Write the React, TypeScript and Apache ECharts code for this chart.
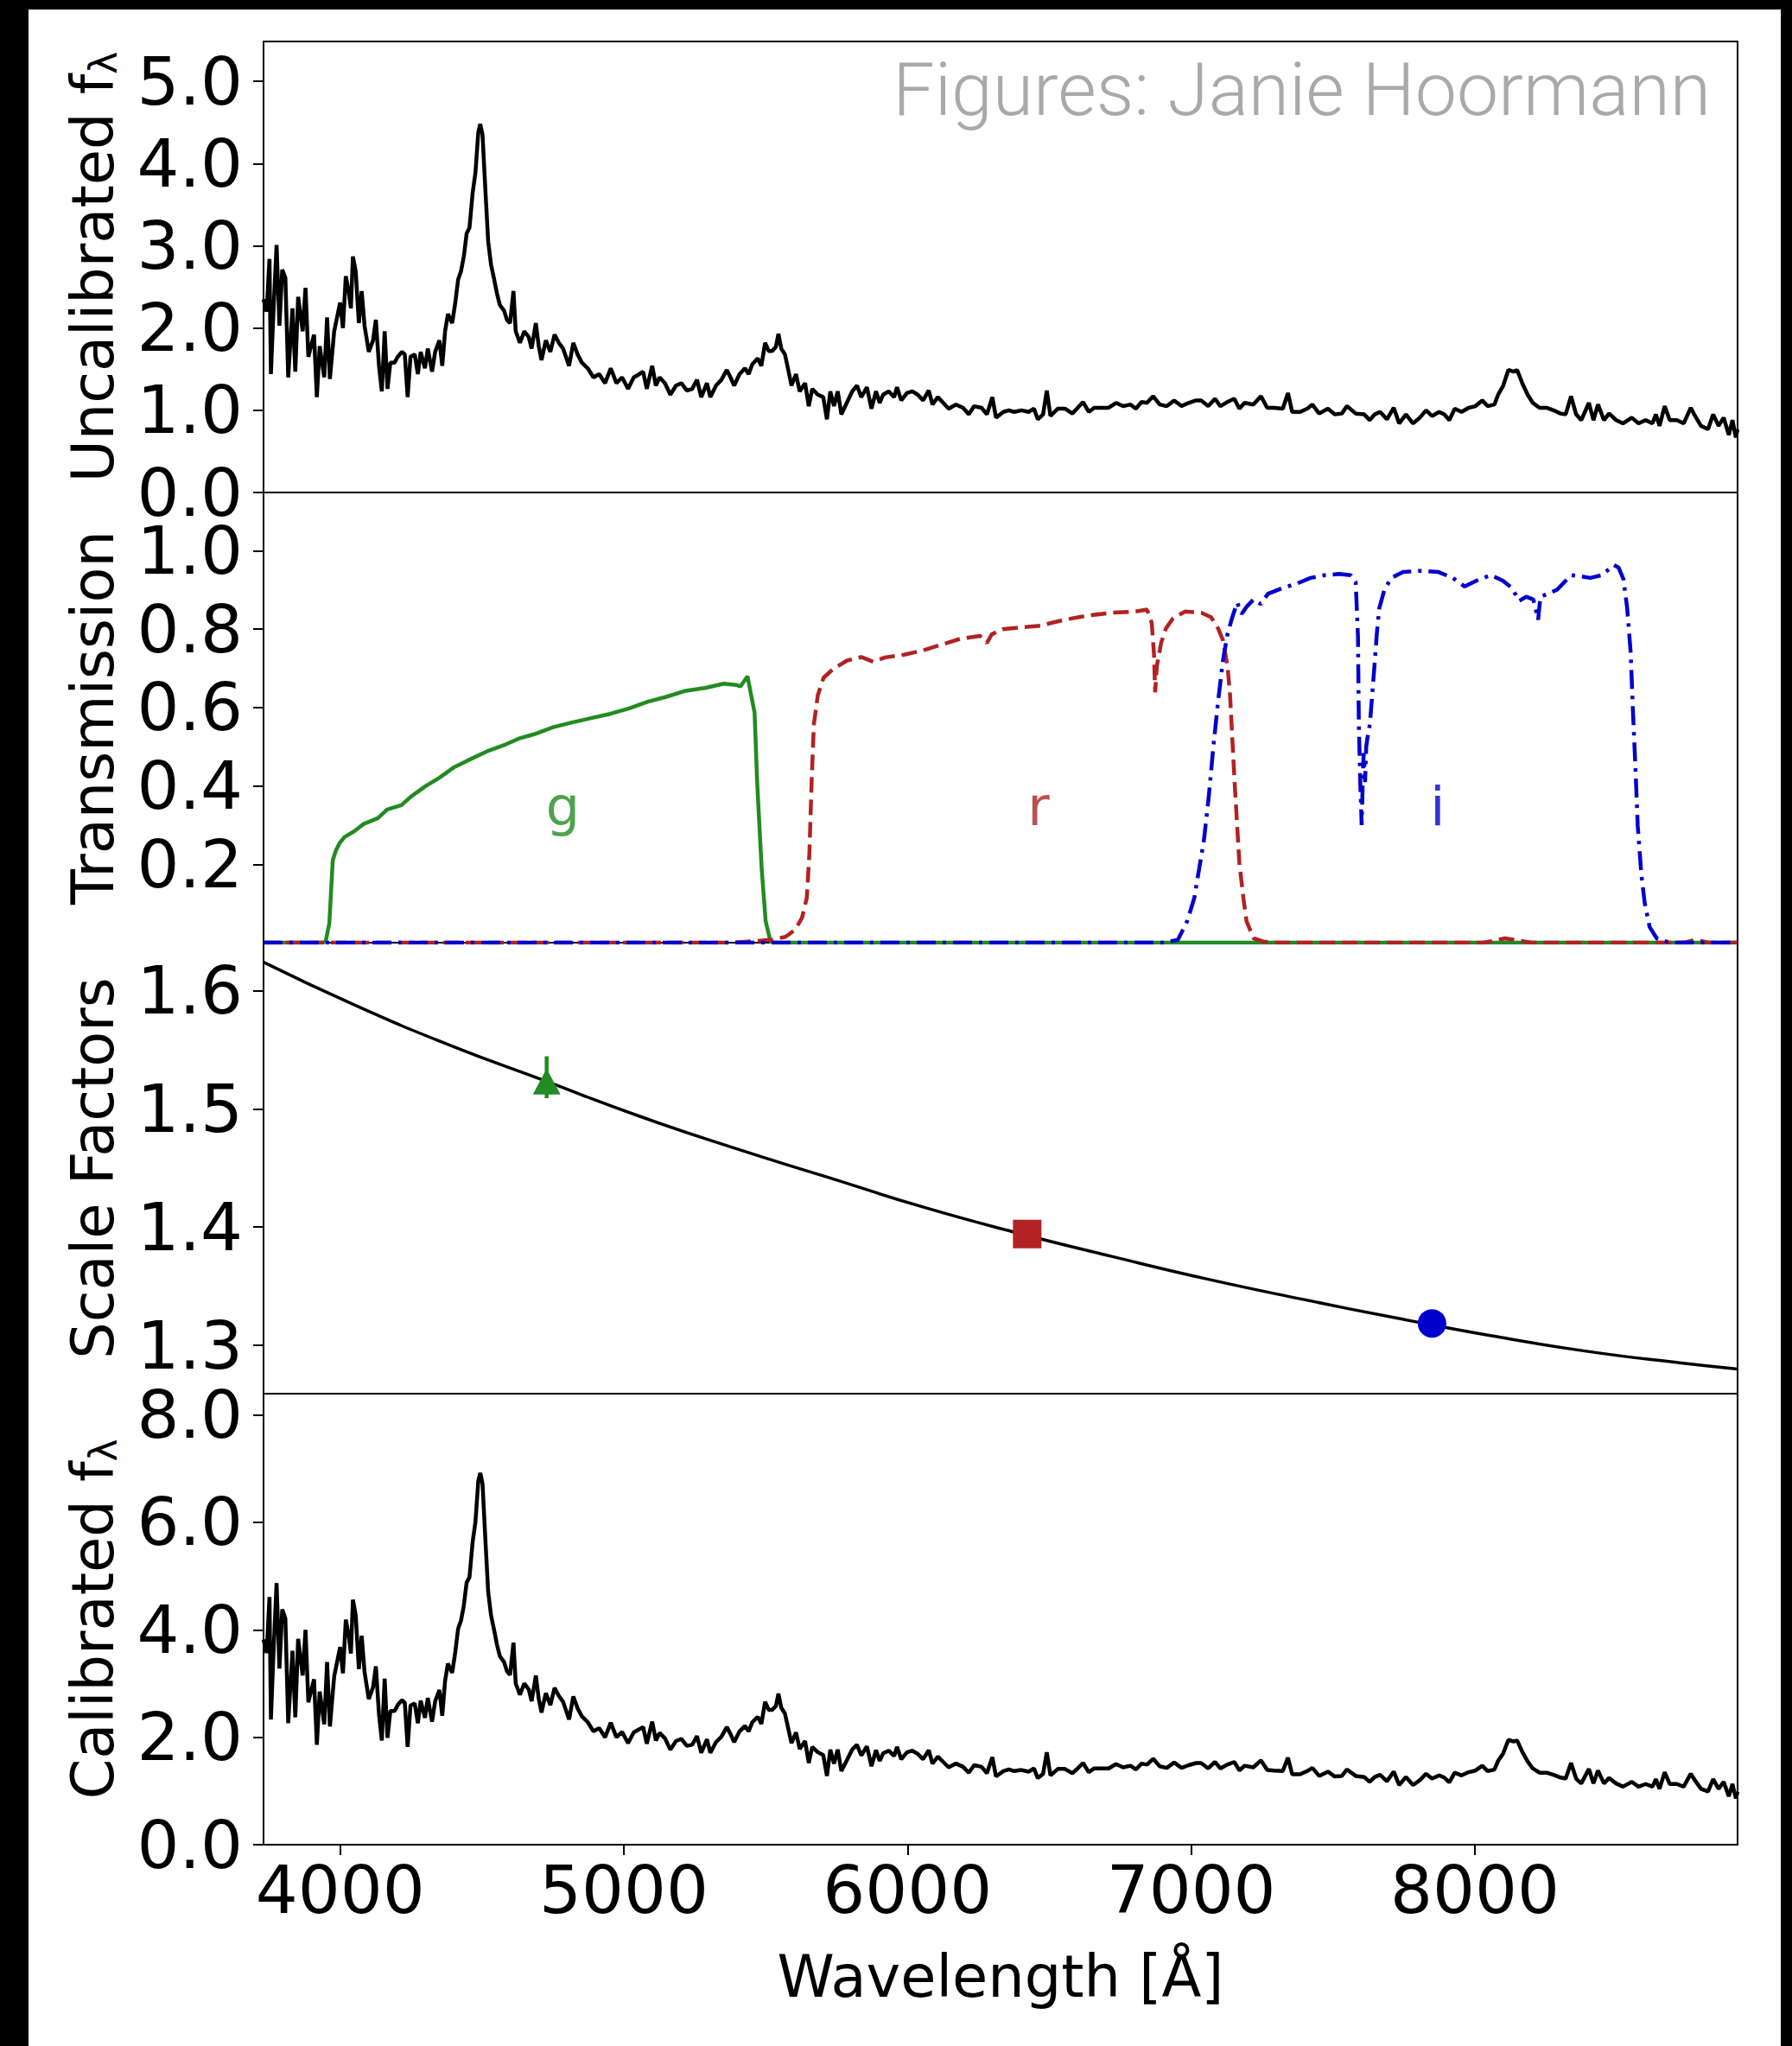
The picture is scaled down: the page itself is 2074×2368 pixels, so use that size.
import React, { useEffect, useRef } from "react";
import * as echarts from "echarts";

// ---------- axes ----------
const X_MIN = 3730;
const X_MAX = 8926;
const xTicks = [4000, 5000, 6000, 7000, 8000];
const uncalTicks = [0, 1, 2, 3, 4, 5];
const transTicks = [0.2, 0.4, 0.6, 0.8, 1.0];
const scaleTicks = [1.3, 1.4, 1.5, 1.6];
const calTicks = [0, 2, 4, 6, 8];

// ---------- spectrum ----------
const wavelengths = [
  3730, 3741, 3751, 3756, 3766, 3776, 3786, 3796, 3807, 3817,
  3832, 3842, 3852, 3868, 3878, 3888, 3908, 3918, 3928, 3944,
  3954, 3964, 3979, 4000, 4010, 4020, 4030, 4038, 4045, 4055,
  4066, 4076, 4086, 4101, 4116, 4126, 4137, 4147, 4157, 4167,
  4177, 4192, 4203, 4218, 4228, 4238, 4248, 4263, 4274, 4284,
  4299, 4309, 4324, 4335, 4350, 4360, 4370, 4380, 4395, 4406,
  4416, 4426, 4436, 4446, 4456, 4467, 4477, 4487, 4494, 4502,
  4512, 4522, 4532, 4543, 4553, 4563, 4578, 4588, 4599, 4611,
  4619, 4634, 4649, 4665, 4675, 4690, 4700, 4710, 4725, 4741,
  4756, 4771, 4786, 4807, 4822, 4837, 4852, 4873, 4893, 4913,
  4934, 4954, 4974, 4994, 5015, 5035, 5055, 5068, 5081, 5100,
  5113, 5126, 5145, 5164, 5184, 5203, 5222, 5241, 5258, 5273,
  5293, 5305, 5325, 5344, 5363, 5376, 5389, 5408, 5427, 5440,
  5453, 5472, 5485, 5498, 5511, 5523, 5536, 5545, 5555, 5568,
  5581, 5591, 5607, 5620, 5639, 5652, 5664, 5684, 5703, 5716,
  5728, 5741, 5754, 5767, 5786, 5805, 5822, 5837, 5857, 5873,
  5889, 5902, 5914, 5934, 5953, 5963, 5978, 5998, 6017, 6036,
  6055, 6075, 6088, 6107, 6126, 6145, 6171, 6196, 6216, 6235,
  6261, 6280, 6299, 6312, 6338, 6357, 6376, 6402, 6427, 6446,
  6459, 6478, 6491, 6504, 6530, 6555, 6581, 6600, 6619, 6639,
  6658, 6684, 6709, 6735, 6760, 6786, 6805, 6825, 6844, 6866,
  6889, 6914, 6940, 6966, 6991, 7017, 7035, 7060, 7084, 7103,
  7127, 7152, 7170, 7188, 7219, 7246, 7268, 7292, 7323, 7341,
  7356, 7384, 7409, 7427, 7451, 7482, 7506, 7531, 7549, 7580,
  7610, 7629, 7647, 7666, 7690, 7714, 7733, 7757, 7782, 7806,
  7828, 7849, 7874, 7892, 7910, 7929, 7953, 7978, 8002, 8026,
  8045, 8069, 8082, 8100, 8118, 8137, 8149, 8167, 8186, 8204,
  8228, 8253, 8277, 8302, 8320, 8339, 8357, 8375, 8402, 8418,
  8434, 8455, 8473, 8498, 8522, 8553, 8577, 8602, 8626, 8638,
  8651, 8669, 8687, 8712, 8736, 8761, 8773, 8797, 8822, 8840,
  8859, 8877, 8895, 8908, 8920, 8926,
];

const uncalibratedFlux = [
  2.35, 2.20, 2.84, 1.44, 2.28, 3.01, 2.03, 2.71, 2.61, 1.40,
  2.24, 1.47, 2.38, 1.96, 2.49, 1.65, 1.92, 1.16, 1.78, 1.40,
  2.13, 1.38, 1.96, 2.31, 2.00, 2.63, 2.45, 2.24, 2.87, 2.69,
  2.06, 2.45, 2.03, 1.71, 1.85, 2.10, 1.54, 1.23, 1.96, 1.26,
  1.58, 1.58, 1.65, 1.71, 1.68, 1.16, 1.65, 1.68, 1.44, 1.71,
  1.51, 1.75, 1.47, 1.71, 1.85, 1.54, 1.96, 2.17, 2.06, 2.31,
  2.59, 2.69, 2.87, 3.15, 3.22, 3.64, 3.89, 4.38, 4.48, 4.35,
  3.68, 3.05, 2.77, 2.59, 2.42, 2.28, 2.21, 2.10, 2.06, 2.45,
  1.96, 1.82, 1.96, 1.89, 1.75, 2.06, 1.78, 1.61, 1.85, 1.71,
  1.92, 1.82, 1.75, 1.54, 1.82, 1.68, 1.58, 1.51, 1.40, 1.44,
  1.33, 1.51, 1.33, 1.40, 1.26, 1.40, 1.44, 1.47, 1.26, 1.54,
  1.30, 1.40, 1.33, 1.19, 1.30, 1.33, 1.24, 1.26, 1.37, 1.16,
  1.33, 1.16, 1.30, 1.37, 1.49, 1.40, 1.30, 1.44, 1.51, 1.44,
  1.56, 1.63, 1.54, 1.82, 1.72, 1.72, 1.77, 1.93, 1.75, 1.68,
  1.47, 1.30, 1.44, 1.23, 1.33, 1.05, 1.26, 1.19, 1.16, 0.89,
  1.23, 1.05, 1.23, 0.95, 1.09, 1.23, 1.30, 1.16, 1.28, 1.02,
  1.23, 1.09, 1.19, 1.23, 1.16, 1.28, 1.12, 1.21, 1.23, 1.19,
  1.12, 1.24, 1.07, 1.16, 1.09, 1.02, 1.07, 1.03, 0.95, 1.05,
  1.03, 0.95, 1.16, 0.91, 0.98, 1.00, 0.98, 1.00, 0.98, 1.02,
  0.89, 0.95, 1.24, 0.93, 1.02, 1.02, 0.96, 1.03, 1.10, 0.98,
  1.03, 1.03, 1.03, 1.09, 1.05, 1.07, 1.02, 1.10, 1.09, 1.17,
  1.07, 1.05, 1.12, 1.05, 1.09, 1.12, 1.12, 1.05, 1.14, 1.05,
  1.10, 1.14, 1.02, 1.09, 1.07, 1.17, 1.03, 1.03, 1.02, 1.21,
  0.98, 0.98, 1.02, 1.07, 0.96, 1.02, 0.95, 0.96, 1.05, 0.96,
  0.95, 0.88, 0.95, 0.98, 0.89, 1.03, 0.84, 0.95, 0.84, 0.91,
  1.00, 0.93, 0.98, 0.95, 0.88, 1.02, 0.98, 1.03, 1.05, 1.12,
  1.05, 1.07, 1.19, 1.30, 1.49, 1.47, 1.49, 1.33, 1.19, 1.09,
  1.03, 1.03, 1.00, 0.96, 0.95, 1.17, 0.95, 0.88, 1.09, 0.88,
  1.07, 0.88, 0.96, 0.88, 0.84, 0.91, 0.84, 0.88, 0.84, 0.95,
  0.81, 1.05, 0.88, 0.88, 0.84, 1.03, 0.95, 0.81, 0.77, 0.95,
  0.81, 0.91, 0.70, 0.88, 0.67, 0.77,
];

const calibratedFlux = [
  3.82, 3.57, 4.61, 2.33, 3.69, 4.87, 3.28, 4.38, 4.21, 2.26,
  3.61, 2.37, 3.83, 3.15, 4.00, 2.65, 3.08, 1.86, 2.85, 2.24,
  3.40, 2.20, 3.13, 3.68, 3.19, 4.19, 3.90, 3.56, 4.56, 4.27,
  3.27, 3.89, 3.22, 2.71, 2.93, 3.32, 2.43, 1.94, 3.09, 1.99,
  2.49, 2.49, 2.60, 2.69, 2.64, 1.82, 2.59, 2.63, 2.26, 2.68,
  2.36, 2.73, 2.29, 2.67, 2.88, 2.40, 3.05, 3.37, 3.20, 3.59,
  4.02, 4.17, 4.45, 4.88, 4.98, 5.63, 6.01, 6.77, 6.92, 6.72,
  5.68, 4.70, 4.27, 3.99, 3.72, 3.51, 3.40, 3.23, 3.16, 3.76,
  3.00, 2.79, 3.00, 2.89, 2.67, 3.15, 2.72, 2.46, 2.82, 2.60,
  2.92, 2.77, 2.66, 2.33, 2.76, 2.54, 2.39, 2.28, 2.11, 2.17,
  2.00, 2.27, 2.00, 2.10, 1.89, 2.09, 2.15, 2.19, 1.88, 2.29,
  1.94, 2.08, 1.98, 1.77, 1.93, 1.97, 1.84, 1.86, 2.02, 1.71,
  1.96, 1.71, 1.91, 2.01, 2.19, 2.06, 1.91, 2.11, 2.21, 2.11,
  2.28, 2.38, 2.25, 2.66, 2.51, 2.51, 2.58, 2.81, 2.55, 2.44,
  2.13, 1.89, 2.09, 1.78, 1.93, 1.52, 1.82, 1.72, 1.67, 1.28,
  1.77, 1.51, 1.77, 1.37, 1.57, 1.77, 1.86, 1.66, 1.83, 1.46,
  1.76, 1.56, 1.70, 1.75, 1.65, 1.82, 1.59, 1.72, 1.75, 1.69,
  1.59, 1.76, 1.51, 1.64, 1.54, 1.44, 1.51, 1.45, 1.34, 1.48,
  1.45, 1.33, 1.63, 1.27, 1.37, 1.40, 1.37, 1.39, 1.36, 1.42,
  1.24, 1.32, 1.72, 1.29, 1.41, 1.41, 1.33, 1.42, 1.52, 1.35,
  1.42, 1.42, 1.42, 1.50, 1.44, 1.47, 1.40, 1.51, 1.49, 1.60,
  1.46, 1.43, 1.53, 1.43, 1.48, 1.52, 1.52, 1.42, 1.54, 1.42,
  1.49, 1.54, 1.38, 1.47, 1.44, 1.57, 1.39, 1.38, 1.37, 1.62,
  1.31, 1.31, 1.37, 1.43, 1.28, 1.36, 1.27, 1.28, 1.40, 1.28,
  1.26, 1.17, 1.26, 1.30, 1.18, 1.36, 1.11, 1.26, 1.11, 1.20,
  1.32, 1.23, 1.29, 1.25, 1.16, 1.34, 1.29, 1.35, 1.38, 1.47,
  1.37, 1.40, 1.56, 1.70, 1.95, 1.92, 1.94, 1.73, 1.55, 1.42,
  1.34, 1.34, 1.30, 1.25, 1.23, 1.52, 1.23, 1.14, 1.41, 1.14,
  1.38, 1.14, 1.24, 1.14, 1.08, 1.17, 1.08, 1.13, 1.08, 1.22,
  1.04, 1.35, 1.13, 1.13, 1.08, 1.32, 1.22, 1.04, 0.99, 1.22,
  1.04, 1.17, 0.90, 1.13, 0.86, 0.99,
];

// ---------- filter transmission curves [wavelength, transmission] ----------
const gFilter = [
  [3730, 0], [3940, 0], [3949, 0.003], [3962, 0.05], [3974, 0.21], [3985, 0.235],
  [3999, 0.255], [4016, 0.27], [4049, 0.284], [4083, 0.303], [4133, 0.318], [4166, 0.34],
  [4216, 0.351], [4250, 0.373], [4300, 0.399], [4350, 0.421], [4400, 0.447], [4450, 0.465],
  [4517, 0.488], [4584, 0.506], [4634, 0.522], [4684, 0.532], [4751, 0.55], [4818, 0.562],
  [4885, 0.573], [4952, 0.584], [5019, 0.598], [5085, 0.615], [5152, 0.628], [5219, 0.643],
  [5286, 0.65], [5353, 0.661], [5395, 0.658], [5411, 0.654], [5436, 0.68], [5461, 0.587],
  [5470, 0.41], [5486, 0.188], [5500, 0.055], [5517, 0.003], [5530, 0], [8926, 0],
];
const rFilter = [
  [3730, 0], [5380, 0], [5520, 0.007], [5570, 0.015], [5604, 0.033], [5628, 0.063],
  [5645, 0.114], [5654, 0.225], [5662, 0.41], [5670, 0.558], [5684, 0.632], [5704, 0.676],
  [5737, 0.698], [5787, 0.72], [5837, 0.729], [5879, 0.717], [5921, 0.728], [5988, 0.735],
  [6055, 0.746], [6121, 0.761], [6188, 0.776], [6255, 0.783], [6280, 0.765], [6297, 0.787],
  [6335, 0.8], [6402, 0.805], [6468, 0.809], [6552, 0.824], [6636, 0.835], [6719, 0.842],
  [6803, 0.845], [6844, 0.85], [6861, 0.816], [6869, 0.735], [6873, 0.639], [6879, 0.706],
  [6894, 0.765], [6911, 0.802], [6936, 0.828], [6978, 0.845], [7036, 0.842], [7070, 0.831],
  [7095, 0.802], [7112, 0.772], [7128, 0.706], [7137, 0.632], [7145, 0.521], [7153, 0.41],
  [7162, 0.299], [7170, 0.203], [7184, 0.114], [7195, 0.055], [7220, 0.011], [7254, 0.003],
  [7300, 0], [8030, 0], [8060, 0.004], [8106, 0.011], [8156, 0.005], [8200, 0],
  [8740, 0], [8775, 0.007], [8825, 0], [8926, 0],
];
const iFilter = [
  [3730, 0], [6900, 0], [6953, 0.007], [6986, 0.055], [7011, 0.114], [7028, 0.188],
  [7045, 0.262], [7062, 0.373], [7078, 0.499], [7095, 0.617], [7112, 0.72], [7128, 0.787],
  [7145, 0.831], [7162, 0.868], [7178, 0.839], [7195, 0.857], [7220, 0.876], [7245, 0.864],
  [7270, 0.89], [7321, 0.905], [7371, 0.916], [7421, 0.931], [7471, 0.938], [7521, 0.941],
  [7563, 0.938], [7580, 0.92], [7588, 0.78], [7591, 0.558], [7596, 0.41], [7601, 0.3],
  [7605, 0.42], [7608, 0.484], [7613, 0.41], [7617, 0.5], [7621, 0.521], [7630, 0.558],
  [7638, 0.632], [7646, 0.706], [7655, 0.794], [7663, 0.853], [7680, 0.898], [7705, 0.931],
  [7747, 0.946], [7805, 0.949], [7872, 0.946], [7922, 0.931], [7964, 0.909], [8006, 0.924],
  [8056, 0.938], [8098, 0.924], [8131, 0.905], [8156, 0.872], [8181, 0.883], [8206, 0.876],
  [8223, 0.824], [8231, 0.883], [8256, 0.89], [8290, 0.901], [8315, 0.92], [8340, 0.938],
  [8373, 0.935], [8407, 0.931], [8448, 0.938], [8490, 0.964], [8507, 0.957], [8524, 0.927],
  [8537, 0.853], [8549, 0.743], [8557, 0.595], [8566, 0.447], [8574, 0.299], [8587, 0.173],
  [8599, 0.1], [8616, 0.04], [8641, 0.011], [8674, 0.003], [8700, 0], [8926, 0],
];
const bandNames = ["g", "r", "i"];
const bandColors = ["#228B22", "#B22222", "#0000CD"];
const bandLabelLambda = [4785, 6462, 7869];
const bandLabelT = 0.347;

// ---------- scale factors ----------
const scaleCurveLambda = [3730, 4049, 4384, 4718, 5052, 5386, 5720, 6054, 6388, 6723, 7057, 7391, 7725, 8059, 8393, 8727, 8926];
const scaleCurveValue = [1.624, 1.588, 1.554, 1.524, 1.494, 1.467, 1.442, 1.417, 1.395, 1.375, 1.356, 1.339, 1.323, 1.308, 1.295, 1.285, 1.28];
const photLambda = [4728, 6422, 7849];
const photScale = [1.523, 1.394, 1.3185];
const photSymbols = ["triangle", "rect", "circle"];
const gErrorBar = [1.509, 1.5444];

const FONT = "'DejaVu Sans', sans-serif";
const TICK_FS = 77;
const NAME_FS = 67;

const grids = [
  { top: 37, height: 522 },
  { top: 559, height: 521 },
  { top: 1080, height: 522 },
  { top: 1602, height: 522 },
].map((g) => ({
  left: 272,
  width: 1706,
  top: g.top,
  height: g.height,
  show: true,
  borderColor: "#000",
  borderWidth: 2,
  backgroundColor: "transparent",
}));

const fmt1 = (v: number) => v.toFixed(1);

function makeYAxis(gridIndex: number, min: number, max: number, ticks: number[], name: string, rich: boolean) {
  const base: any = {
    type: "value",
    gridIndex,
    min,
    max,
    splitLine: { show: false },
    axisLine: { show: false, onZero: false },
    axisTick: { show: true, inside: false, length: 12, lineStyle: { color: "#000", width: 2 }, customValues: ticks },
    axisLabel: {
      show: true,
      customValues: ticks,
      formatter: fmt1,
      fontSize: TICK_FS,
      fontFamily: FONT,
      color: "#000",
      margin: 24,
    },
    name,
    nameLocation: "middle",
    nameRotate: 90,
    nameGap: rich ? 158 : 164,
    nameTextStyle: { fontSize: NAME_FS, fontFamily: FONT, color: "#000" },
  };
  if (rich) {
    base.nameTextStyle.rich = {
      a: { fontSize: NAME_FS, fontFamily: FONT, color: "#000", lineHeight: NAME_FS, verticalAlign: "top", padding: [0, 0, 6, 0] },
      b: { fontSize: 44, fontFamily: FONT, color: "#000", lineHeight: 44, verticalAlign: "bottom" },
    };
  }
  return base;
}

function makeXAxis(gridIndex: number, showLabels: boolean) {
  return {
    type: "value",
    gridIndex,
    min: X_MIN,
    max: X_MAX,
    splitLine: { show: false },
    axisLine: { show: false, onZero: false },
    axisTick: { show: showLabels, inside: false, length: 12, lineStyle: { color: "#000", width: 2 }, customValues: xTicks },
    axisLabel: {
      show: showLabels,
      customValues: xTicks,
      formatter: (v: number) => String(Math.round(v)),
      fontSize: TICK_FS,
      fontFamily: FONT,
      color: "#000",
      margin: 14,
    },
    name: showLabels ? "Wavelength [Å]" : "",
    nameLocation: "middle",
    nameGap: 119,
    nameTextStyle: { fontSize: NAME_FS, fontFamily: FONT, color: "#000" },
  };
}

const lineBase = { type: "line", showSymbol: false, symbol: "none", smooth: false, clip: true, z: 3 };

const option: any = {
  animation: false,
  backgroundColor: "#ffffff",
  grid: grids,
  xAxis: [makeXAxis(0, false), makeXAxis(1, false), makeXAxis(2, false), makeXAxis(3, true)],
  yAxis: [
    makeYAxis(0, 0, 5.485, uncalTicks, "{a|Uncalibrated f}{b|λ}", true),
    makeYAxis(1, 0, 1.149, transTicks, "Transmission", false),
    makeYAxis(2, 1.2591, 1.6405, scaleTicks, "Scale Factors", false),
    makeYAxis(3, 0, 8.396, calTicks, "{a|Calibrated f}{b|λ}", true),
  ],
  graphic: [
    {
      type: "text",
      x: 1947,
      y: 92,
      style: {
        text: "Figures: Janie Hoormann",
        fontSize: 86,
        fontFamily: "Roboto, 'Liberation Sans', sans-serif",
        fontWeight: 300,
        fill: "#a7aaa9",
        textAlign: "right",
        textVerticalAlign: "middle",
      },
      z: 10,
    },
  ],
  series: [
    {
      ...lineBase,
      name: "uncalibrated",
      xAxisIndex: 0,
      yAxisIndex: 0,
      data: wavelengths.map((w, i) => [w, uncalibratedFlux[i]]),
      lineStyle: { color: "#000", width: 4.5 },
    },
    {
      ...lineBase,
      name: "g",
      xAxisIndex: 1,
      yAxisIndex: 1,
      data: gFilter,
      lineStyle: { color: bandColors[0], width: 4.5 },
    },
    {
      ...lineBase,
      name: "r",
      xAxisIndex: 1,
      yAxisIndex: 1,
      data: rFilter,
      lineStyle: { color: bandColors[1], width: 4.5, type: [18, 8] },
    },
    {
      ...lineBase,
      name: "i",
      xAxisIndex: 1,
      yAxisIndex: 1,
      data: iFilter,
      lineStyle: { color: bandColors[2], width: 4.5, type: [22, 8, 4, 8] },
    },
    {
      type: "scatter",
      name: "bandLabels",
      xAxisIndex: 1,
      yAxisIndex: 1,
      symbolSize: 1,
      itemStyle: { color: "rgba(0,0,0,0)" },
      label: {
        show: true,
        position: "inside",
        formatter: (p: any) => p.name,
        fontSize: 62,
        fontFamily: FONT,
      },
      data: bandNames.map((n, i) => ({
        name: n,
        value: [bandLabelLambda[i], bandLabelT],
        label: { color: bandColors[i] },
      })),
      z: 5,
    },
    {
      ...lineBase,
      name: "scaleCurve",
      xAxisIndex: 2,
      yAxisIndex: 2,
      smooth: true,
      data: scaleCurveLambda.map((w, i) => [w, scaleCurveValue[i]]),
      lineStyle: { color: "#000", width: 3.5 },
    },
    {
      ...lineBase,
      name: "gError",
      xAxisIndex: 2,
      yAxisIndex: 2,
      data: gErrorBar.map((v) => [photLambda[0], v]),
      lineStyle: { color: bandColors[0], width: 4.5 },
      z: 4,
    },
    {
      type: "scatter",
      name: "photometry",
      xAxisIndex: 2,
      yAxisIndex: 2,
      data: photLambda.map((w, i) => ({
        value: [w, photScale[i]],
        symbol: photSymbols[i],
        symbolSize: i === 0 ? [32, 30] : 33,
        itemStyle: { color: bandColors[i], opacity: 1 },
      })),
      itemStyle: { opacity: 1 },
      z: 6,
    },
    {
      ...lineBase,
      name: "calibrated",
      xAxisIndex: 3,
      yAxisIndex: 3,
      data: wavelengths.map((w, i) => [w, calibratedFlux[i]]),
      lineStyle: { color: "#000", width: 4.5 },
    },
  ],
};

export default function App() {
  const ref = useRef<HTMLDivElement>(null);
  useEffect(() => {
    document.body.style.margin = "0";
    const chart = echarts.init(ref.current as HTMLDivElement, null, { renderer: "svg" });
    chart.setOption(option);
    return () => {
      chart.dispose();
    };
  }, []);
  return (
    <div style={{ position: "relative", width: 2074, height: 2368, background: "#000", overflow: "hidden" }}>
      <div
        ref={ref}
        style={{ position: "absolute", left: 33, top: 11, width: 2028, height: 2357, background: "#fff" }}
      />
    </div>
  );
}
